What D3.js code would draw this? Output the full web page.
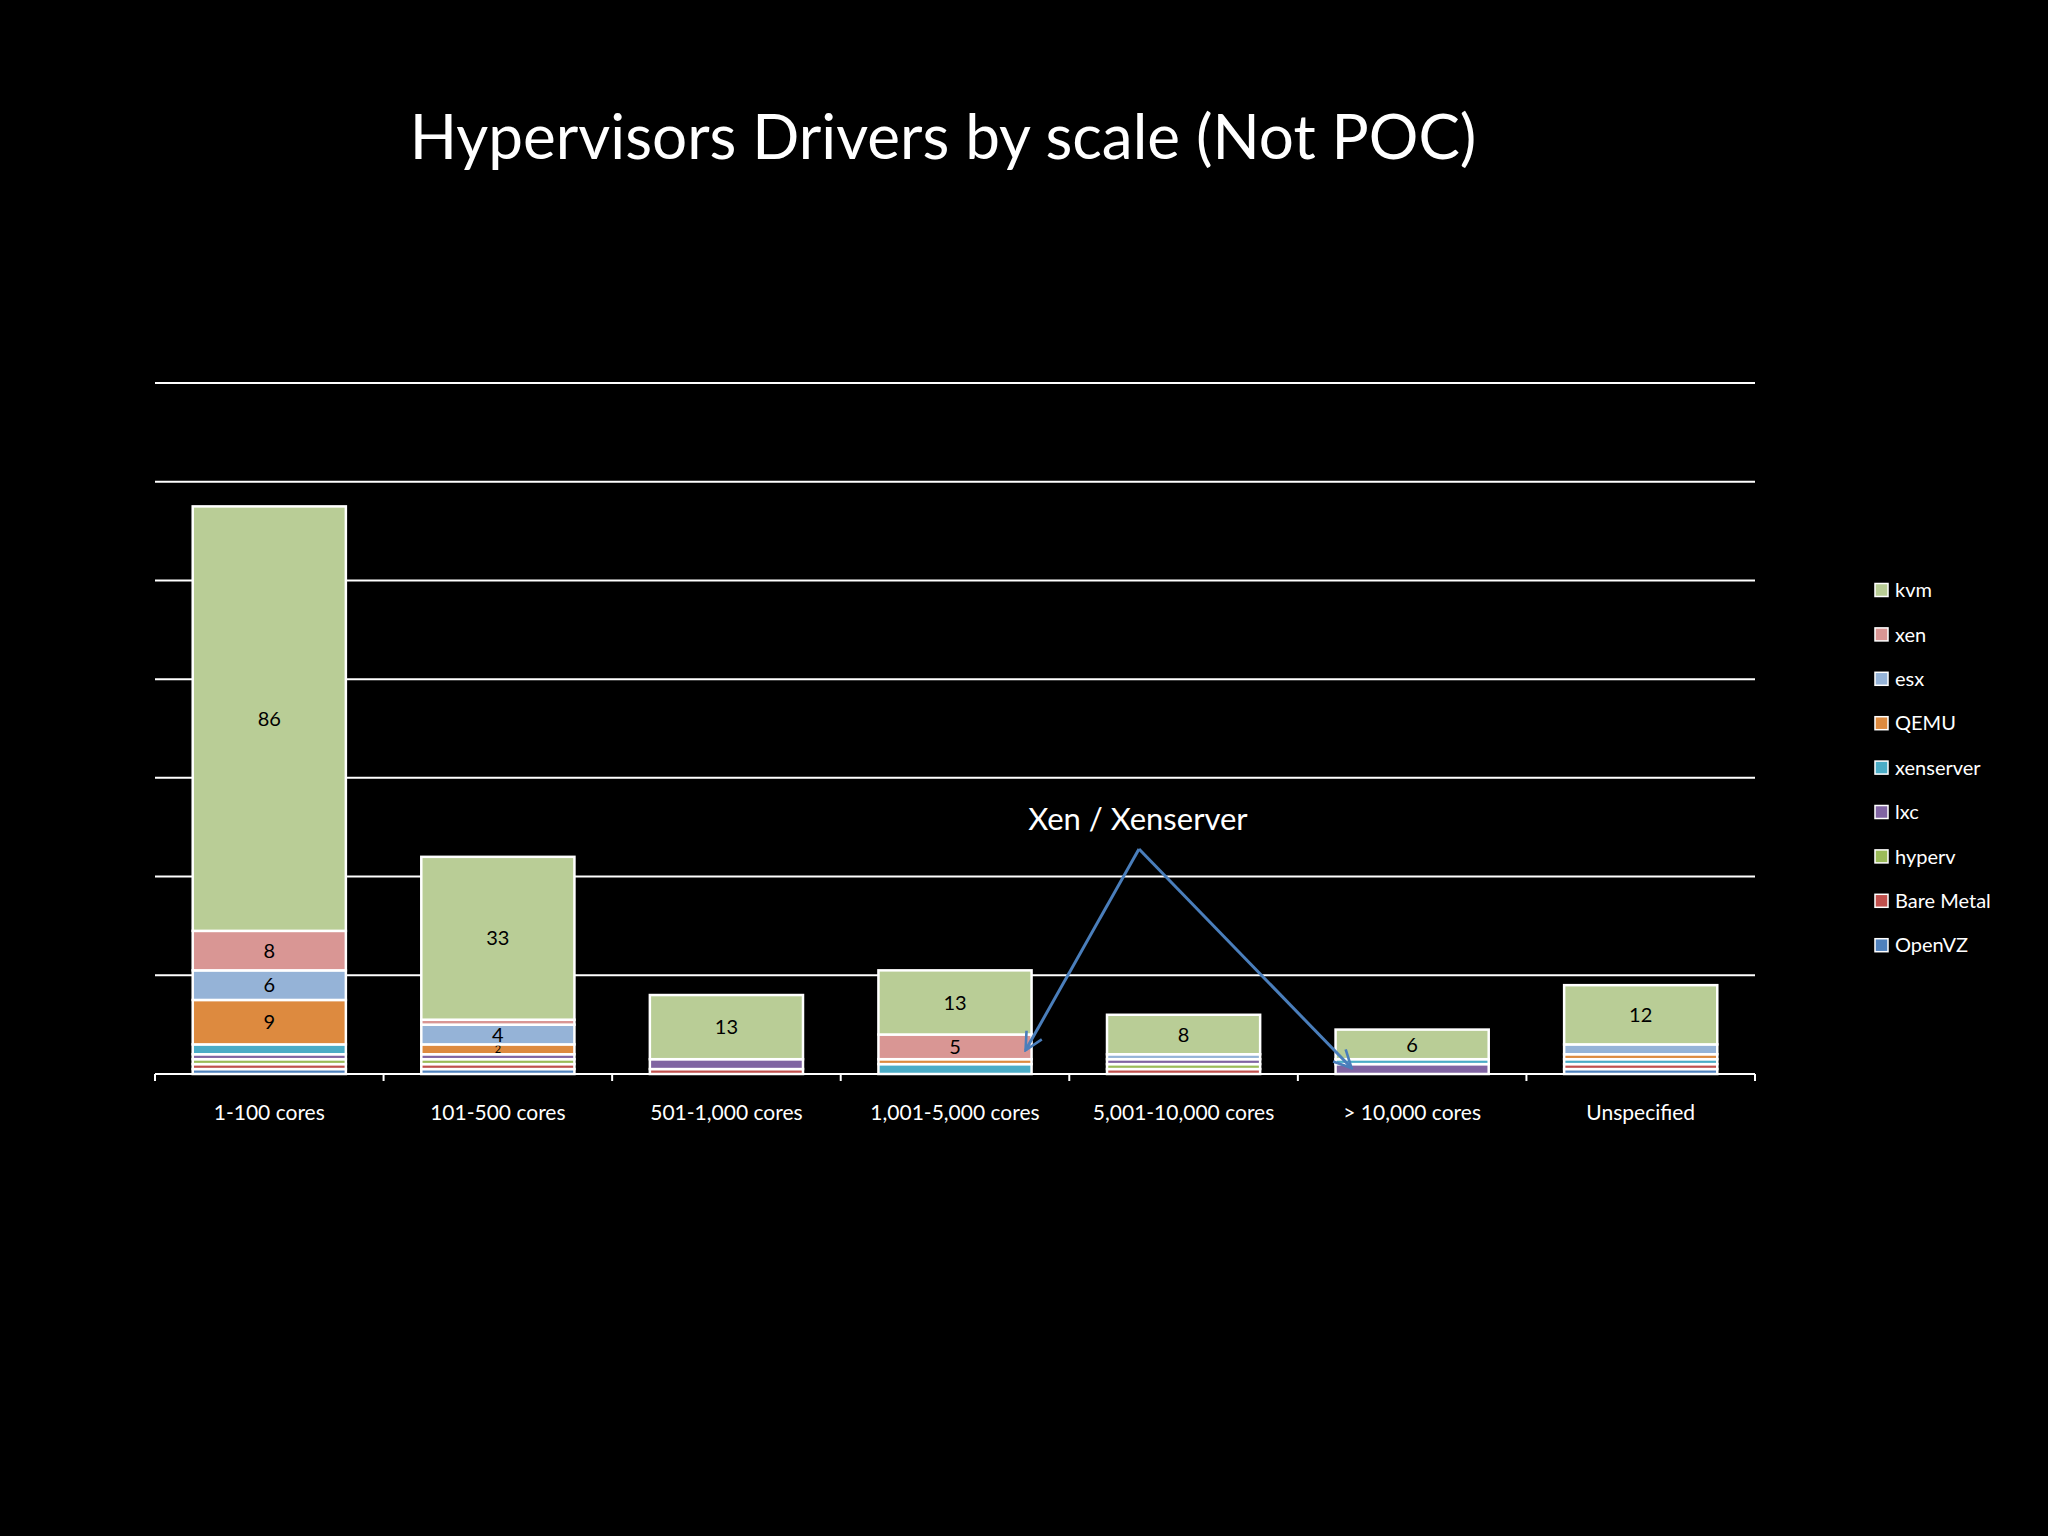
<!DOCTYPE html>
<html>
<head>
<meta charset="utf-8">
<script src="https://cdn.jsdelivr.net/npm/d3@7"></script>
<style>
  html, body { margin: 0; padding: 0; background: #000; }
  svg { display: block; font-family: Lato, "Open Sans", sans-serif; }
</style>
</head>
<body>
<svg id="chart" width="2048" height="1536"></svg>
<script>
// categories along the x axis
var categories = ['1-100 cores', '101-500 cores', '501-1,000 cores', '1,001-5,000 cores',
  '5,001-10,000 cores', '> 10,000 cores', 'Unspecified'];

// stacking order, bottom series listed last
var seriesNames = ['kvm', 'xen', 'esx', 'QEMU', 'xenserver', 'lxc', 'hyperv', 'Bare Metal', 'OpenVZ'];
var seriesColors = ['#b9cd96', '#d99694', '#95b3d7', '#dd8a3f', '#4bacc6', '#8064a2', '#9bbb59', '#c0504d', '#4f81bd'];

// values per series, one per category
var kvm       = [86, 33, 13, 13, 8, 6, 12];
var xen       = [8, 1, 0, 5, 0, 0, 0];
var esx       = [6, 4, 0, 0, 1, 0, 2];
var qemu      = [9, 2, 0, 1, 0, 0, 1];
var xenserver = [2, 0, 0, 2, 0, 1, 1];
var lxc       = [1, 1, 2, 0, 1, 2, 0];
var hyperv    = [1, 1, 0, 0, 1, 0, 0];
var bareMetal = [1, 1, 1, 0, 1, 0, 1];
var openvz    = [1, 1, 0, 0, 0, 0, 1];

var yTicks = [0, 20, 40, 60, 80, 100, 120, 140];

// smallest segment that gets a value label, per series (others unlabelled)
var labelMin = { kvm: 1, xen: 2, esx: 3, QEMU: 2 };

// the "Xen / Xenserver" callout points at these segments
var callouts = [
  { cat: '1,001-5,000 cores', value: 4.8, side: 'right' },
  { cat: '> 10,000 cores', value: 1.2, side: 'left' }
];

var seriesValues = [kvm, xen, esx, qemu, xenserver, lxc, hyperv, bareMetal, openvz];

var svg = d3.select('#chart');
var margin = { left: 155, right: 293, top: 383, bottom: 462 };
var width = 2048 - margin.left - margin.right;
var height = 1536 - margin.top - margin.bottom;

svg.append('text')
  .attr('x', 943).attr('y', 159)
  .attr('text-anchor', 'middle')
  .attr('fill', '#fff')
  .style('font-size', '62px')
  .text('Hypervisors Drivers by scale (Not POC)');

var g = svg.append('g').attr('transform', 'translate(' + margin.left + ',' + margin.top + ')');

var x = d3.scaleBand().domain(categories).range([0, width]).paddingInner(0.33).paddingOuter(0.165);
var y = d3.scaleLinear().domain([0, 140]).range([height, 0]);

// gridlines
g.selectAll('.grid').data(yTicks.slice(1)).enter().append('line')
  .attr('class', 'grid')
  .attr('x1', 0).attr('x2', width)
  .attr('y1', function (d) { return y(d); })
  .attr('y2', function (d) { return y(d); })
  .attr('stroke', '#fff').attr('stroke-width', 2);

// build stacked rows
var rows = categories.map(function (c, i) {
  var row = { cat: c };
  seriesNames.forEach(function (s, j) { row[s] = seriesValues[j][i]; });
  return row;
});
var stackOrder = seriesNames.slice().reverse();
var stacked = d3.stack().keys(stackOrder)(rows);

var layers = g.selectAll('.layer').data(stacked).enter().append('g')
  .attr('class', 'layer')
  .attr('fill', function (d) { return seriesColors[seriesNames.indexOf(d.key)]; });

layers.selectAll('rect').data(function (d) {
  return d.map(function (p) { return { key: d.key, p: p }; }).filter(function (e) { return e.p[1] > e.p[0]; });
}).enter().append('rect')
  .attr('x', function (d) { return x(d.p.data.cat); })
  .attr('width', x.bandwidth())
  .attr('y', function (d) { return y(d.p[1]); })
  .attr('height', function (d) { return y(d.p[0]) - y(d.p[1]); })
  .attr('stroke', '#fff').attr('stroke-width', 2.5);

// value labels on the bigger segments
layers.filter(function (d) { return labelMin[d.key] !== undefined; })
  .selectAll('text').data(function (d) {
    return d.map(function (p) { return { key: d.key, p: p, v: p[1] - p[0] }; })
      .filter(function (e) { return e.v >= labelMin[e.key]; });
  }).enter().append('text')
  .attr('x', function (d) { return x(d.p.data.cat) + x.bandwidth() / 2; })
  .attr('y', function (d) { return (y(d.p[0]) + y(d.p[1])) / 2; })
  .attr('dy', '0.36em')
  .attr('text-anchor', 'middle')
  .attr('fill', '#000')
  .style('font-size', function (d) { return d.v < 3 ? '11px' : '20px'; })
  .text(function (d) { return d.v; });

// x axis
var axisY = y(0);
g.append('line').attr('x1', 0).attr('x2', width).attr('y1', axisY).attr('y2', axisY)
  .attr('stroke', '#fff').attr('stroke-width', 2);
var step = width / categories.length;
g.selectAll('.tick').data(d3.range(categories.length + 1)).enter().append('line')
  .attr('x1', function (i) { return i * step; }).attr('x2', function (i) { return i * step; })
  .attr('y1', axisY).attr('y2', axisY + 7)
  .attr('stroke', '#fff').attr('stroke-width', 2);
g.selectAll('.xlabel').data(categories).enter().append('text')
  .attr('x', function (d) { return x(d) + x.bandwidth() / 2; })
  .attr('y', axisY + 46)
  .attr('text-anchor', 'middle')
  .attr('fill', '#fff')
  .style('font-size', '21px')
  .text(function (d) { return d; });

// legend
var legend = svg.append('g').attr('transform', 'translate(1875,590)');
var items = legend.selectAll('g').data(seriesNames).enter().append('g')
  .attr('transform', function (d, i) { return 'translate(0,' + (i * 44.4) + ')'; });
items.append('rect').attr('x', 0).attr('y', -6.5).attr('width', 13).attr('height', 13)
  .attr('fill', function (d, i) { return seriesColors[i]; })
  .attr('stroke', '#fff').attr('stroke-width', 1.5);
items.append('text').attr('x', 20).attr('dy', '0.36em')
  .attr('fill', '#fff').style('font-size', '20px')
  .text(function (d) { return d; });

// callout
var arrowColor = '#4a7ebb';
svg.append('defs').append('marker')
  .attr('id', 'arrow').attr('viewBox', '0 0 12 12').attr('refX', 11).attr('refY', 6)
  .attr('markerWidth', 7).attr('markerHeight', 7).attr('orient', 'auto')
  .attr('markerUnits', 'strokeWidth')
  .append('path').attr('d', 'M1,1 L11,6 L1,11').attr('fill', 'none')
  .attr('stroke', arrowColor).attr('stroke-width', 1.5);

var origin = [1139, 849];
svg.append('text')
  .attr('x', 1138).attr('y', 830)
  .attr('text-anchor', 'middle').attr('fill', '#fff')
  .style('font-size', '31px')
  .text('Xen / Xenserver');

callouts.forEach(function (c) {
  var tx = margin.left + x(c.cat) + (c.side === 'right' ? x.bandwidth() - 6 : 16);
  var ty = margin.top + y(c.value);
  svg.append('line')
    .attr('x1', origin[0]).attr('y1', origin[1])
    .attr('x2', tx).attr('y2', ty)
    .attr('stroke', arrowColor).attr('stroke-width', 3)
    .attr('marker-end', 'url(#arrow)');
});
</script>
</body>
</html>
